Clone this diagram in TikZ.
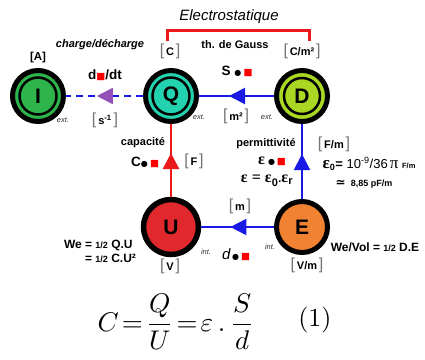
\documentclass[tikz,border=0pt]{standalone}
\usepackage{fontspec}
\setmainfont{Liberation Sans}
\newfontfamily\symfnt{DejaVu Sans}
\newfontfamily\grkfnt{Liberation Serif}
\usetikzlibrary{arrows.meta, decorations.markings}

\definecolor{fillI}{RGB}{45,180,75}
\definecolor{fillQ}{RGB}{35,210,175}
\definecolor{fillD}{RGB}{170,215,35}
\definecolor{fillU}{RGB}{225,40,45}
\definecolor{fillE}{RGB}{240,130,50}
\definecolor{linkblue}{RGB}{25,25,230}
\definecolor{linkred}{RGB}{235,25,25}
\definecolor{arrpurple}{RGB}{150,80,185}

\newcommand{\bdot}{{\symfnt\fontsize{8}{8}\selectfont ●}}
\newcommand{\rsq}{{\symfnt\fontsize{9.5}{9.5}\selectfont\textcolor{red}{■}}}
\newcommand{\brk}[1]{{\fontsize{16}{16}\mdseries\selectfont\color{black!55}#1}}
\newcommand{\dimlbl}[1]{\brk{[}\,#1\,\brk{]}}
\newcommand{\geps}{{\grkfnt\fontsize{16}{16}\selectfont ε}}

\begin{document}
\begin{tikzpicture}[x=1pt, y=-1pt,
    lbl/.style={font=\bfseries\fontsize{11}{14}\selectfont, inner sep=0pt},
    biglbl/.style={lbl, font=\bfseries\fontsize{13.5}{14}\selectfont},
    sidelbl/.style={font=\itshape\fontsize{7.5}{8}\selectfont, text=black!80, inner sep=0pt},
    ringnode/.style={circle, draw=black, line width=5pt, minimum size=51pt, inner sep=0pt, font=\bfseries\fontsize{21}{21}\selectfont},
    inring/.style={draw=black, line width=2.5pt},
    link/.style={line width=2pt, draw=linkblue},
    midarrow/.style={postaction={decorate}, decoration={markings,
        mark=at position 0.6 with {\arrow[solid, #1]{Triangle[length=16pt, width=16pt]}}}}
]
    \useasboundingbox (0,0) rectangle (425,359);

    % title and bracket
    \node[font=\itshape\fontsize{15}{15}\selectfont, inner sep=0pt] (title) at (229,17) {Electrostatique};
    \draw[linkred, line width=3pt] (167,41) -- (167,30) -- (309,30) -- (309,41);

    % quantities
    \node[ringnode, fill=fillI] (I) at (38,96) {I};
    \node[ringnode, fill=fillQ] (Q) at (171,96) {Q};
    \node[ringnode, fill=fillD] (D) at (302,96) {D};
    \node[ringnode, fill=fillU, minimum size=55pt, line width=5.5pt] (U) at (171,227) {U};
    \node[ringnode, fill=fillE, minimum size=51pt] (E) at (302,227) {E};
    \draw[inring] (I.center) circle (18.5pt);
    \draw[inring] (Q.center) circle (18.5pt);
    \draw[inring] (D.center) circle (18pt);

    % links
    \draw[link, dash pattern=on 7pt off 5pt, midarrow=arrpurple] (Q) -- (I);
    \draw[link, midarrow=linkblue] (D) -- (Q);
    \draw[link, draw=linkred, line width=2.5pt, midarrow=linkred] (U) -- (Q);
    \draw[link, midarrow=linkblue] (E) -- (D);
    \draw[link, midarrow=linkblue] (E) -- (U);

    % units
    \node[lbl, font=\bfseries\fontsize{11.5}{12}\selectfont] (uI) at (38,58) {[A]};
    \node[lbl] (uQ) at (170,51) {\dimlbl{C}};
    \node[lbl] (uD) at (302,51) {\dimlbl{C/m²}};
    \node[lbl] (uU) at (170,266) {\dimlbl{V}};
    \node[lbl] (uE) at (307,265) {\dimlbl{V/m}};
    \node[lbl] (uIQ) at (105,120) {\dimlbl{s\textsuperscript{-1}}};
    \node[lbl] (uQD) at (236,116) {\dimlbl{m²}};
    \node[lbl] (uUQ) at (194,161) {\dimlbl{F}};
    \node[lbl] (uED) at (334,144) {\dimlbl{F/m}};
    \node[lbl] (uEU) at (240,206) {\dimlbl{m}};

    % side marks
    \node[sidelbl] (xI) at (63,120) {ext.};
    \node[sidelbl] (xQ) at (199,117) {ext.};
    \node[sidelbl] (xD) at (267,117) {ext.};
    \node[sidelbl] (nU) at (206,252) {int.};
    \node[sidelbl] (nE) at (270,247) {int.};

    % relations
    \node[lbl, font=\bfseries\itshape\fontsize{11}{12}\selectfont] (chg) at (100,45) {charge/décharge};
    \node[biglbl] (ddt) at (105,75) {d\rsq/dt};
    \node[lbl] (gauss) at (235,45) {th. de Gauss};
    \node[biglbl] (surf) at (237,71) {S \bdot\,\rsq};
    \node[lbl] (cap) at (143,143) {capacité};
    \node[biglbl] (capC) at (145,162) {C\bdot\,\rsq};
    \node[lbl] (perm) at (266,144) {permittivité};
    \node[lbl] (epsE) at (272,161) {\geps\ \bdot\,\rsq};
    \node[lbl] (epsR) at (267,181) {\geps{\grkfnt\fontsize{16}{16}\selectfont\ =\ }\geps\textsubscript{\fontsize{11}{11}\selectfont 0}.\geps\textsubscript{\fontsize{11}{11}\selectfont r}};
    \node[lbl, font=\fontsize{13}{13}\selectfont] (eps0) at (369,164) {{\grkfnt\bfseries\fontsize{17}{17}\selectfont ε}\textsubscript{\bfseries 0}\textbf{=} 10\textsuperscript{-9}/36\,{\grkfnt\fontsize{17}{17}\selectfont π} {\bfseries\fontsize{7.5}{8}\selectfont F/m}};
    \node[lbl, font=\bfseries\fontsize{9}{9}\selectfont] (eps0v) at (364,184) {{\symfnt\fontsize{12}{12}\selectfont ≃}\ \ 8,85 pF/m};
    \node[lbl] (dist) at (236,255) {{\mdseries\itshape\fontsize{15}{15}\selectfont d}\,\bdot\,\rsq};
    \node[lbl, align=left, font=\bfseries\fontsize{12}{14}\selectfont] (weQ) at (100,251) {We = {\fontsize{9}{9}\selectfont 1/2} Q.U\\\hphantom{We }= {\fontsize{9}{9}\selectfont 1/2} C.U²};
    \node[lbl, font=\bfseries\fontsize{12}{12}\selectfont] (weV) at (375,247) {We/Vol = {\fontsize{9}{9}\selectfont 1/2} D.E};

    % capacity formula
    \node[inner sep=0pt] (eq) at (176,322) {\scalebox{2.7}{$\displaystyle C\!=\!\frac{Q}{U}\!=\!\varepsilon\,.\,\frac{S}{d}$}};
    \node[inner sep=0pt] (eqnum) at (315,320) {\scalebox{2.6}{$(1)$}};
\end{tikzpicture}
\end{document}
